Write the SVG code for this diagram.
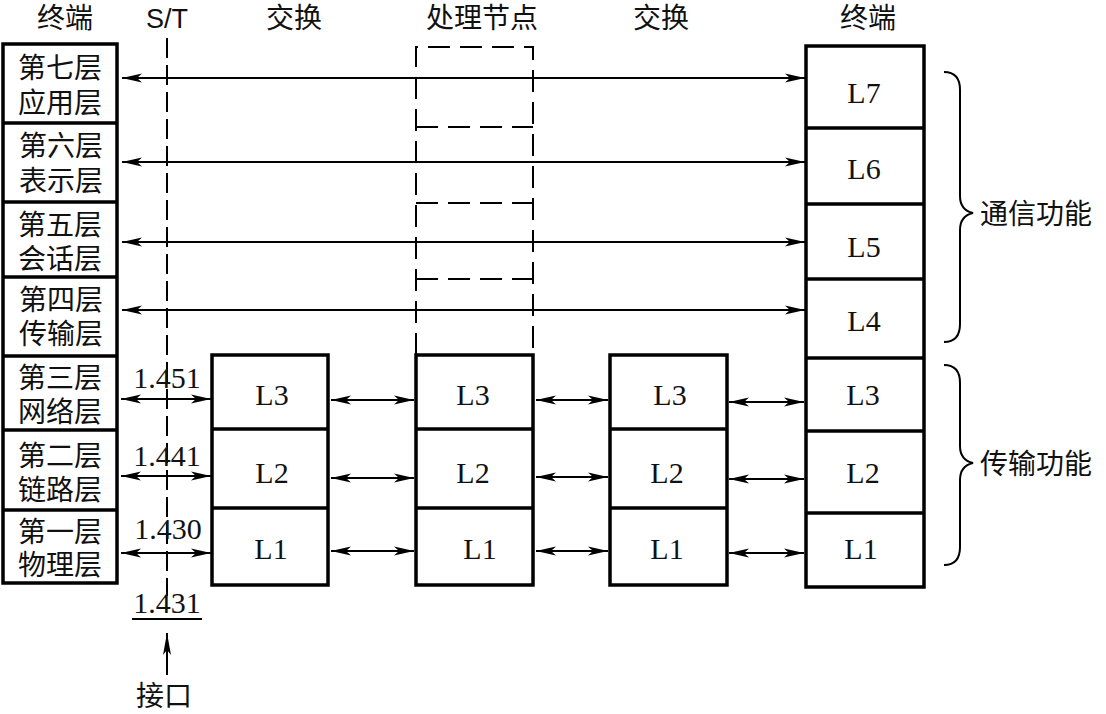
<svg xmlns="http://www.w3.org/2000/svg" width="1106" height="714" viewBox="0 0 1106 714">
<style>
.cjk{font-family:"Liberation Sans","Noto Sans CJK SC",sans-serif;font-size:28px;fill:#111;dominant-baseline:central;text-anchor:middle}
.lat{font-family:"Liberation Serif","Times New Roman",serif;font-size:30px;fill:#111;dominant-baseline:central;text-anchor:middle}
.sans{font-family:"Liberation Sans",Arial,sans-serif;font-size:27px;fill:#111;dominant-baseline:central;text-anchor:middle}
.box{fill:#fff;stroke:#000;stroke-width:3.5}
.div{stroke:#000;stroke-width:3.5}
.dash{fill:none;stroke:#000;stroke-width:2;stroke-dasharray:22 10}
.st{fill:none;stroke:#000;stroke-width:2;stroke-dasharray:20 7}
.arr{stroke:#000;stroke-width:2;fill:none;marker-start:url(#ah);marker-end:url(#ah)}
.brace{fill:none;stroke:#000;stroke-width:2}
</style>
<defs>
<marker id="ah" viewBox="0 0 20 10" refX="20" refY="5" markerWidth="20" markerHeight="10" markerUnits="userSpaceOnUse" orient="auto-start-reverse">
<path d="M0,0.5 L20,5 L0,9.5 L5,5 Z" fill="#000"/>
</marker>
<marker id="up" viewBox="0 0 10 22" refX="5" refY="0" markerWidth="10" markerHeight="22" markerUnits="userSpaceOnUse" orient="0">
<path d="M5,0 L9,22 L5,17 L1,22 Z" fill="#000"/>
</marker>
</defs>

<g id="headers">
<text class="cjk" x="65" y="18">终端</text>
<text class="sans" x="167" y="19">S/T</text>
<text class="cjk" x="294" y="18">交换</text>
<text class="cjk" x="482" y="18">处理节点</text>
<text class="cjk" x="661" y="18">交换</text>
<text class="cjk" x="868" y="18">终端</text>
</g>

<g id="st-line">
<line class="st" x1="167" y1="38" x2="167" y2="596"/>
</g>

<g id="terminal-left">
<rect class="box" x="3" y="44" width="114" height="539"/>
<line class="div" x1="3" y1="123" x2="117" y2="123"/>
<line class="div" x1="3" y1="202" x2="117" y2="202"/>
<line class="div" x1="3" y1="277" x2="117" y2="277"/>
<line class="div" x1="3" y1="356" x2="117" y2="356"/>
<line class="div" x1="3" y1="430" x2="117" y2="430"/>
<line class="div" x1="3" y1="510" x2="117" y2="510"/>
<text class="cjk" x="60" y="68"><tspan x="60" y="68">第七层</tspan><tspan x="60" y="103">应用层</tspan></text>
<text class="cjk" x="61" y="146"><tspan x="61" y="146">第六层</tspan><tspan x="61" y="181">表示层</tspan></text>
<text class="cjk" x="60" y="225"><tspan x="60" y="225">第五层</tspan><tspan x="60" y="259">会话层</tspan></text>
<text class="cjk" x="61" y="300"><tspan x="61" y="300">第四层</tspan><tspan x="61" y="334">传输层</tspan></text>
<text class="cjk" x="60" y="378"><tspan x="60" y="378">第三层</tspan><tspan x="60" y="412">网络层</tspan></text>
<text class="cjk" x="60" y="456"><tspan x="60" y="456">第二层</tspan><tspan x="60" y="490">链路层</tspan></text>
<text class="cjk" x="60" y="532"><tspan x="60" y="532">第一层</tspan><tspan x="60" y="565">物理层</tspan></text>
</g>

<g id="switch-1">
<rect class="box" x="212" y="355" width="116" height="230"/>
<line class="div" x1="212" y1="429" x2="328" y2="429"/>
<line class="div" x1="212" y1="508" x2="328" y2="508"/>
<text class="lat" x="272" y="394">L3</text>
<text class="lat" x="272" y="472">L2</text>
<text class="lat" x="271" y="548">L1</text>
</g>

<g id="processing-node">
<path class="dash" d="M416,355 V47 H533 V355"/>
<line class="dash" x1="416" y1="127" x2="533" y2="127"/>
<line class="dash" x1="416" y1="203" x2="533" y2="203"/>
<line class="dash" x1="416" y1="279" x2="533" y2="279"/>
<rect class="box" x="416" y="355" width="117" height="230"/>
<line class="div" x1="416" y1="429" x2="533" y2="429"/>
<line class="div" x1="416" y1="508" x2="533" y2="508"/>
<text class="lat" x="473" y="394">L3</text>
<text class="lat" x="473" y="472">L2</text>
<text class="lat" x="480" y="548">L1</text>
</g>

<g id="switch-2">
<rect class="box" x="610" y="355" width="117" height="230"/>
<line class="div" x1="610" y1="429" x2="727" y2="429"/>
<line class="div" x1="610" y1="508" x2="727" y2="508"/>
<text class="lat" x="670" y="394">L3</text>
<text class="lat" x="667" y="472">L2</text>
<text class="lat" x="667" y="548">L1</text>
</g>

<g id="terminal-right">
<rect class="box" x="806" y="46" width="118" height="541"/>
<line class="div" x1="806" y1="128" x2="924" y2="128"/>
<line class="div" x1="806" y1="204" x2="924" y2="204"/>
<line class="div" x1="806" y1="279" x2="924" y2="279"/>
<line class="div" x1="806" y1="358" x2="924" y2="358"/>
<line class="div" x1="806" y1="431" x2="924" y2="431"/>
<line class="div" x1="806" y1="513" x2="924" y2="513"/>
<text class="lat" x="864" y="92">L7</text>
<text class="lat" x="864" y="168">L6</text>
<text class="lat" x="864" y="246">L5</text>
<text class="lat" x="864" y="320">L4</text>
<text class="lat" x="863" y="394">L3</text>
<text class="lat" x="863" y="472">L2</text>
<text class="lat" x="861" y="548">L1</text>
</g>

<g id="connectors">
<line class="arr" x1="122" y1="78" x2="805" y2="78"/>
<line class="arr" x1="122" y1="162" x2="805" y2="162"/>
<line class="arr" x1="122" y1="242" x2="805" y2="242"/>
<line class="arr" x1="122" y1="310" x2="805" y2="310"/>
<line class="arr" x1="121" y1="399" x2="211" y2="399"/>
<line class="arr" x1="121" y1="476" x2="211" y2="476"/>
<line class="arr" x1="121" y1="553" x2="211" y2="553"/>
<line class="arr" x1="331" y1="400" x2="414" y2="400"/>
<line class="arr" x1="331" y1="478" x2="414" y2="478"/>
<line class="arr" x1="331" y1="551" x2="414" y2="551"/>
<line class="arr" x1="536" y1="400" x2="608" y2="400"/>
<line class="arr" x1="536" y1="477" x2="608" y2="477"/>
<line class="arr" x1="536" y1="551" x2="608" y2="551"/>
<line class="arr" x1="729" y1="402" x2="804" y2="402"/>
<line class="arr" x1="729" y1="479" x2="804" y2="479"/>
<line class="arr" x1="729" y1="553" x2="804" y2="553"/>
<line x1="167" y1="675" x2="167" y2="633" stroke="#000" stroke-width="2" marker-end="url(#up)"/>
</g>

<g id="interface-labels">
<text class="lat" x="167" y="377">1.451</text>
<text class="lat" x="167" y="455">1.441</text>
<text class="lat" x="168" y="528">1.430</text>
<text class="lat" x="167" y="602">1.431</text>
<line x1="132" y1="619" x2="202" y2="619" stroke="#000" stroke-width="2"/>
<text class="cjk" x="164" y="696">接口</text>
</g>

<g id="brace-comm">
<path class="brace" d="M944,72 Q960,72 960,90 V196 Q960,210 973,213 Q960,216 960,230 V324 Q960,342 944,342"/>
<text class="cjk" x="980" y="214" style="text-anchor:start">通信功能</text>
</g>

<g id="brace-trans">
<path class="brace" d="M944,365 Q960,365 960,383 V446 Q960,460 973,463 Q960,466 960,480 V547 Q960,565 944,565"/>
<text class="cjk" x="980" y="464" style="text-anchor:start">传输功能</text>
</g>
</svg>
